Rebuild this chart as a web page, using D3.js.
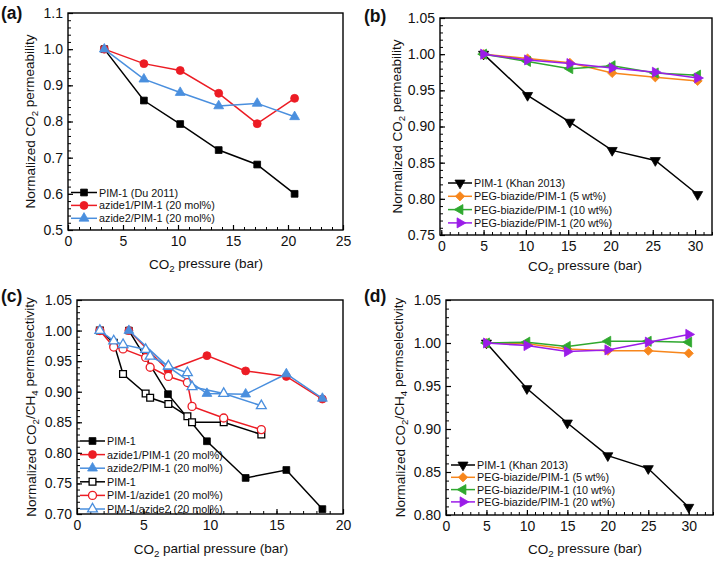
<!DOCTYPE html>
<html><head><meta charset="utf-8">
<script src="https://cdn.jsdelivr.net/npm/d3@7"></script>
<style>
html,body{margin:0;padding:0;background:#fff;}
svg{display:block;font-family:"Liberation Sans",Arial,sans-serif;}
</style></head>
<body><svg id="chart" width="720" height="562"></svg>
<script>
// ---------- DATA ----------
// Panel (a)
const aPressure = [3.3, 6.9, 10.2, 13.7, 17.2, 20.6];
const aPIM1     = [1.0, 0.858, 0.793, 0.721, 0.681, 0.600];
const aAzide1   = [1.0, 0.960, 0.941, 0.878, 0.794, 0.864];
const aAzide2   = [1.0, 0.917, 0.880, 0.843, 0.850, 0.813];
const aLabels   = ["PIM-1 (Du 2011)", "azide1/PIM-1 (20 mol%)", "azide2/PIM-1 (20 mol%)"];
const aXTicks   = [0, 5, 10, 15, 20, 25];
const aYTicks   = [0.5, 0.6, 0.7, 0.8, 0.9, 1.0, 1.1];

// Panel (b)
const bPressure = [5.0, 10.2, 15.2, 20.2, 25.3, 30.3];
const bPIM1     = [1.0, 0.943, 0.906, 0.867, 0.853, 0.806];
const bPEG5     = [1.0, 0.994, 0.988, 0.974, 0.968, 0.963];
const bPEG10    = [1.0, 0.990, 0.980, 0.984, 0.974, 0.971];
const bPEG20    = [1.0, 0.992, 0.987, 0.981, 0.975, 0.967];
const bLabels   = ["PIM-1 (Khan 2013)", "PEG-biazide/PIM-1 (5 wt%)", "PEG-biazide/PIM-1 (10 wt%)", "PEG-biazide/PIM-1 (20 wt%)"];
const bXTicks   = [0, 5, 10, 15, 20, 25, 30];
const bYTicks   = [0.75, 0.80, 0.85, 0.90, 0.95, 1.00, 1.05];

// Panel (c)
const cPressureFilled = [3.9, 6.84, 9.77, 12.68, 15.74, 18.45];
const cPIM1       = [1.0, 0.896, 0.819, 0.759, 0.772, 0.708];
const cAzide1     = [1.0, 0.935, 0.959, 0.934, 0.925, 0.888];
const cAzide2     = [1.0, 0.941, 0.897, 0.896, 0.929, 0.889];
const cPressureOpen = [1.72, 2.76, 3.46, 5.16, 5.5, 6.87, 8.3, 8.65, 11.03, 13.86];
const cPIM1open   = [1.0, 0.980, 0.929, 0.897, 0.890, 0.880, 0.860, 0.850, 0.850, 0.830];
const cAzide1open = [1.0, 0.973, 0.970, 0.956, 0.940, 0.925, 0.915, 0.876, 0.857, 0.838];
const cAzide2open = [1.0, 0.983, 0.977, 0.969, 0.958, 0.942, 0.931, 0.908, 0.897, 0.877];
const cLabels   = ["PIM-1", "azide1/PIM-1 (20 mol%)", "azide2/PIM-1 (20 mol%)", "PIM-1", "PIM-1/azide1 (20 mol%)", "PIM-1/azide2 (20 mol%)"];
const cXTicks   = [0, 5, 10, 15, 20];
const cYTicks   = [0.70, 0.75, 0.80, 0.85, 0.90, 0.95, 1.00, 1.05];

// Panel (d)
const dPressure = [5, 10, 15, 20, 25, 30];
const dPIM1     = [1.0, 0.947, 0.907, 0.869, 0.854, 0.809];
const dPEG5     = [1.0, 0.999, 0.993, 0.991, 0.991, 0.988];
const dPEG10    = [1.0, 1.001, 0.996, 1.002, 1.002, 1.001];
const dPEG20    = [1.0, 0.997, 0.990, 0.992, 1.001, 1.010];
const dLabels   = bLabels;
const dXTicks   = [0, 5, 10, 15, 20, 25, 30];
const dYTicks   = [0.80, 0.85, 0.90, 0.95, 1.00, 1.05];

// ---------- STYLE ----------
const BLACK = "#000000", RED = "#ec1c24", BLUE = "#4a8fde", ORANGE = "#f7861c", GREEN = "#2fa82f", PURPLE = "#9b1ce8";

const svg = d3.select("#chart");

function marker(shape, size) {
  const map = {square: d3.symbolSquare, circle: d3.symbolCircle, diamond: d3.symbolSquare,
               up: d3.symbolTriangle, down: d3.symbolTriangle, left: d3.symbolTriangle, right: d3.symbolTriangle};
  return d3.symbol().type(map[shape]).size(size)();
}
const rot = {up: 0, down: 180, left: -90, right: 90, square: 0, circle: 0, diamond: 45};
const sizes = {square: 46, circle: 50, diamond: 42, up: 42, down: 44, left: 44, right: 44};

function titleText(sel, parts) {
  parts.forEach(p => {
    if (p.sub) sel.append("tspan").attr("font-size", "0.72em").attr("dy", "0.3em").text(p.t);
    else if (p.after) sel.append("tspan").attr("dy", "-0.3em").text(p.t);
    else sel.append("tspan").text(p.t);
  });
}

function panel(cfg) {
  const g = svg.append("g");
  const x = d3.scaleLinear().domain(cfg.xDomain).range([cfg.left, cfg.right]);
  const y = d3.scaleLinear().domain(cfg.yDomain).range([cfg.bottom, cfg.top]);

  // minor ticks
  g.append("g").attr("transform", `translate(0,${cfg.bottom})`)
    .call(d3.axisBottom(x).tickValues(d3.range(cfg.xDomain[0] < 0 ? 0 : cfg.xDomain[0], cfg.xDomain[1] + 1e-9, cfg.xMinor)).tickSize(-3).tickFormat(""))
    .call(a => a.select(".domain").remove())
    .call(a => a.selectAll("line").attr("stroke-width", 1));
  g.append("g").attr("transform", `translate(${cfg.left},0)`)
    .call(d3.axisLeft(y).tickValues(d3.range(cfg.yDomain[0], cfg.yDomain[1] + 1e-9, cfg.yMinor)).tickSize(-3).tickFormat(""))
    .call(a => a.select(".domain").remove())
    .call(a => a.selectAll("line").attr("stroke-width", 1));

  // major ticks
  g.append("g").attr("transform", `translate(0,${cfg.bottom})`)
    .call(d3.axisBottom(x).tickValues(cfg.xTicks).tickSize(-5).tickPadding(6).tickFormat(d3.format("d")))
    .call(a => a.select(".domain").remove())
    .call(a => a.selectAll("line").attr("stroke-width", 1.2))
    .call(a => a.selectAll("text").attr("font-size", 14).attr("fill", "#111").attr("font-family", "Liberation Sans, Arial, sans-serif"));
  g.append("g").attr("transform", `translate(${cfg.left},0)`)
    .call(d3.axisLeft(y).tickValues(cfg.yTicks).tickSize(-5).tickPadding(5).tickFormat(d3.format(cfg.yFmt)))
    .call(a => a.select(".domain").remove())
    .call(a => a.selectAll("line").attr("stroke-width", 1.2))
    .call(a => a.selectAll("text").attr("font-size", 14).attr("fill", "#111").attr("font-family", "Liberation Sans, Arial, sans-serif"));

  // frame
  g.append("rect").attr("x", cfg.left).attr("y", cfg.top)
    .attr("width", cfg.right - cfg.left).attr("height", cfg.bottom - cfg.top)
    .attr("fill", "none").attr("stroke", "#000").attr("stroke-width", 1.4);

  // series
  const line = d3.line().x(d => x(d[0])).y(d => y(d[1]));
  cfg.series.forEach(s => {
    const pts = s.x.map((v, i) => [v, s.y[i]]);
    g.append("path").attr("d", line(pts)).attr("fill", "none").attr("stroke", s.color).attr("stroke-width", 1.5);
    g.selectAll(null).data(pts).enter().append("path")
      .attr("d", marker(s.shape, sizes[s.shape]))
      .attr("transform", d => `translate(${x(d[0])},${y(d[1])}) rotate(${rot[s.shape]})`)
      .attr("fill", s.open ? "#fff" : s.color)
      .attr("stroke", s.color).attr("stroke-width", s.open ? 1.3 : 0.8);
  });

  // legend
  cfg.series.forEach((s, i) => {
    const ly = cfg.legY + i * cfg.legDy;
    g.append("line").attr("x1", cfg.legX).attr("x2", cfg.legX + cfg.legW).attr("y1", ly).attr("y2", ly)
      .attr("stroke", s.color).attr("stroke-width", 1.5);
    g.append("path").attr("d", marker(s.shape, sizes[s.shape]))
      .attr("transform", `translate(${cfg.legX + cfg.legW / 2},${ly}) rotate(${rot[s.shape]})`)
      .attr("fill", s.open ? "#fff" : s.color).attr("stroke", s.color).attr("stroke-width", s.open ? 1.3 : 0.8);
    g.append("text").attr("x", cfg.legX + cfg.legW + 2).attr("y", ly + 4)
      .attr("font-size", 10.8).attr("fill", "#111").text(cfg.labels[i]);
  });

  // axis titles
  const xt = g.append("text").attr("x", cfg.xTitleX).attr("y", cfg.xTitleY).attr("text-anchor", "middle")
    .attr("font-size", 13.5).attr("fill", "#111");
  titleText(xt, cfg.xTitle);
  const yt = g.append("text").attr("transform", `translate(${cfg.yTitleX},${(cfg.top + cfg.bottom) / 2}) rotate(-90)`)
    .attr("text-anchor", "middle").attr("font-size", 13.5).attr("fill", "#111");
  titleText(yt, cfg.yTitle);

  // panel label
  g.append("text").attr("x", cfg.labX).attr("y", cfg.labY).attr("font-size", 17.5).attr("font-weight", "bold")
    .attr("fill", "#111").text(cfg.label);
}

const permTitle = [{t: "Normalized CO"}, {t: "2", sub: true}, {t: " permeability", after: true}];
const selTitle  = [{t: "Normalized CO"}, {t: "2", sub: true}, {t: "/CH", after: true}, {t: "4", sub: true}, {t: " permselectivity", after: true}];
const presTitle = [{t: "CO"}, {t: "2", sub: true}, {t: " pressure (bar)", after: true}];
const partTitle = [{t: "CO"}, {t: "2", sub: true}, {t: " partial pressure (bar)", after: true}];

panel({
  label: "(a)", labX: 1, labY: 19,
  left: 68, right: 343, top: 13, bottom: 230,
  xDomain: [0, 25], yDomain: [0.5, 1.1], xTicks: aXTicks, yTicks: aYTicks, xMinor: 1, yMinor: 0.02, yFmt: ".1f",
  series: [
    {x: aPressure, y: aPIM1, color: BLACK, shape: "square"},
    {x: aPressure, y: aAzide1, color: RED, shape: "circle"},
    {x: aPressure, y: aAzide2, color: BLUE, shape: "up"}
  ],
  labels: aLabels, legX: 71, legW: 26, legY: 192.5, legDy: 12.9,
  xTitle: presTitle, xTitleX: 206, xTitleY: 269,
  yTitle: permTitle, yTitleX: 35
});

panel({
  label: "(b)", labX: 364, labY: 22,
  left: 440, right: 712, top: 18, bottom: 235,
  xDomain: [-0.15, 32], yDomain: [0.75, 1.05], xTicks: bXTicks, yTicks: bYTicks, xMinor: 1, yMinor: 0.01, yFmt: ".2f",
  series: [
    {x: bPressure, y: bPIM1, color: BLACK, shape: "down"},
    {x: bPressure, y: bPEG5, color: ORANGE, shape: "diamond"},
    {x: bPressure, y: bPEG10, color: GREEN, shape: "left"},
    {x: bPressure, y: bPEG20, color: PURPLE, shape: "right"}
  ],
  labels: bLabels, legX: 448, legW: 24, legY: 183, legDy: 13.3,
  xTitle: presTitle, xTitleX: 585, xTitleY: 271,
  yTitle: permTitle, yTitleX: 402
});

panel({
  label: "(c)", labX: 1, labY: 302,
  left: 77, right: 343, top: 300, bottom: 514,
  xDomain: [0, 20], yDomain: [0.70, 1.05], xTicks: cXTicks, yTicks: cYTicks, xMinor: 1, yMinor: 0.01, yFmt: ".2f",
  series: [
    {x: cPressureFilled, y: cPIM1, color: BLACK, shape: "square"},
    {x: cPressureFilled, y: cAzide1, color: RED, shape: "circle"},
    {x: cPressureFilled, y: cAzide2, color: BLUE, shape: "up"},
    {x: cPressureOpen, y: cPIM1open, color: BLACK, shape: "square", open: true},
    {x: cPressureOpen, y: cAzide1open, color: RED, shape: "circle", open: true},
    {x: cPressureOpen, y: cAzide2open, color: BLUE, shape: "up", open: true}
  ],
  labels: cLabels, legX: 80, legW: 25, legY: 441, legDy: 13.6,
  xTitle: partTitle, xTitleX: 211, xTitleY: 554,
  yTitle: selTitle, yTitleX: 36
});

panel({
  label: "(d)", labX: 364, labY: 302,
  left: 446, right: 713, top: 300, bottom: 515,
  xDomain: [0, 33], yDomain: [0.80, 1.05], xTicks: dXTicks, yTicks: dYTicks, xMinor: 1, yMinor: 0.01, yFmt: ".2f",
  series: [
    {x: dPressure, y: dPIM1, color: BLACK, shape: "down"},
    {x: dPressure, y: dPEG5, color: ORANGE, shape: "diamond"},
    {x: dPressure, y: dPEG10, color: GREEN, shape: "left"},
    {x: dPressure, y: dPEG20, color: PURPLE, shape: "right"}
  ],
  labels: dLabels, legX: 451, legW: 24, legY: 465, legDy: 12.3,
  xTitle: presTitle, xTitleX: 585, xTitleY: 554,
  yTitle: selTitle, yTitleX: 405
});
</script></body></html>
